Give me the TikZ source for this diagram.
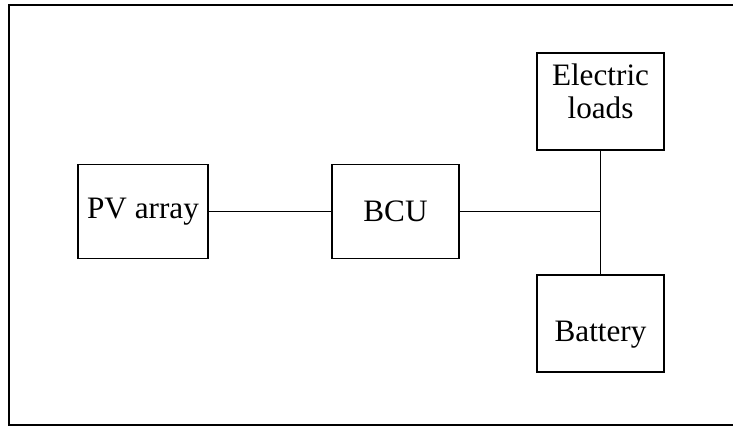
\documentclass[tikz,border=0pt]{standalone}
\usepackage{fontspec}
\setmainfont{Liberation Serif}
\usetikzlibrary{positioning}

\begin{document}
\begin{tikzpicture}[
    x=0.5pt, y=-0.5pt,
    unit/.style={rectangle, draw, line width=0.8pt, minimum width=63.5pt, minimum height=47pt, align=center, inner sep=0pt, font=\fontsize{15.6}{16.5}\selectfont},
    wire/.style={line width=0.8pt}
]
\useasboundingbox (0,0) rectangle (733,426);

% Frame (right side cut off)
\draw[line width=0.8pt] (733,5) -- (9,5) -- (9,425) -- (733,425);

% Blocks
\node[unit, minimum width=65pt] (pv) at (143,211.5) {PV array};
\node[unit] (bcu) at (395.5,211.5) {BCU};
\node[unit, minimum height=48.5pt] (loads) at (600.5,101.5) {Electric\\loads\\[-6pt]\mbox{}};
\node[unit, minimum height=48.5pt] (battery) at (600.5,323.5) {\raisebox{-5pt}[0.7em][0.2em]{Battery}};

% Junction
\coordinate (bus) at (loads.south |- bcu.east);

% Wires
\draw[wire] (pv.east) -- (bcu.west);
\draw[wire] (bcu.east) -- (bus);
\draw[wire] (loads.south) -- (battery.north);

\end{tikzpicture}
\end{document}
